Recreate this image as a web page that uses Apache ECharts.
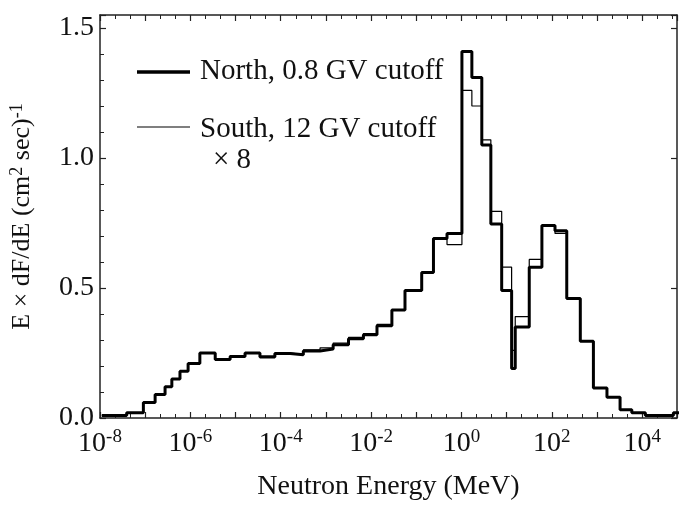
<!DOCTYPE html>
<html style="height: 100%">
<head>
<meta charset="utf-8">
<script src="https://cdn.jsdelivr.net/npm/echarts@6/dist/echarts.min.js"></script>
</head>
<body style="height: 100%; margin: 0; background: #fff">
<div id="container" style="width: 680px; height: 506px"></div>
<script>
// bin edges, log10(E / MeV)
var edges = [-7.96, -7.41, -7.04, -6.78, -6.56, -6.41, -6.23, -6.05, -5.79, -5.45,
  -5.12, -4.79, -4.46, -4.13, -3.79, -3.50, -3.13, -2.84, -2.50, -2.17,
  -1.87, -1.54, -1.25, -0.88, -0.62, -0.32, 0.01, 0.23, 0.45, 0.65,
  0.89, 1.11, 1.19, 1.50, 1.78, 2.07, 2.33, 2.63, 2.92, 3.22,
  3.51, 3.77, 4.07, 4.69, 4.84];
// bin values, North 0.8 GV cutoff
var north = [0.01, 0.02, 0.06, 0.09, 0.12, 0.15, 0.18, 0.21, 0.25, 0.225,
  0.237, 0.25, 0.235, 0.248, 0.243, 0.258, 0.265, 0.282, 0.305, 0.32,
  0.355, 0.415, 0.49, 0.56, 0.69, 0.71, 1.41, 1.31, 1.05, 0.746,
  0.49, 0.19, 0.35, 0.58, 0.74, 0.72, 0.46, 0.295, 0.115, 0.08,
  0.032, 0.02, 0.01, 0.02];
// bin values, South 12 GV cutoff x 8
var south = [0.01, 0.02, 0.06, 0.09, 0.12, 0.15, 0.18, 0.21, 0.25, 0.228,
  0.24, 0.25, 0.238, 0.25, 0.245, 0.262, 0.27, 0.288, 0.31, 0.325,
  0.36, 0.415, 0.49, 0.56, 0.69, 0.667, 1.26, 1.2, 1.07, 0.795,
  0.58, 0.26, 0.39, 0.61, 0.74, 0.71, 0.46, 0.295, 0.115, 0.08,
  0.032, 0.02, 0.01, 0.02];
var xLabelExps = [-8, -6, -4, -2, 0, 2, 4];

function steps(vals) {
  var res = [];
  for (var i = 0; i < vals.length; i++) res.push([edges[i], vals[i]]);
  res.push([edges[edges.length - 1], vals[vals.length - 1]]);
  return res;
}

var font = 'Liberation Serif';
var myChart = echarts.init(document.getElementById('container'));
var tickIn = { show: true, inside: true, length: 6, lineStyle: { color: '#222', width: 1.2 } };
var minorIn = { show: true, splitNumber: 3, length: 4, lineStyle: { color: '#222' } };
var frameLine = { show: true, onZero: false, lineStyle: { color: '#222', width: 1.5 } };

var option = {
  backgroundColor: '#fff',
  animation: false,
  grid: { left: 100, right: 1, top: 15, bottom: 88 },
  xAxis: [{
    type: 'value', min: -8, max: 4.77, interval: 1,
    axisLine: frameLine,
    axisTick: tickIn, minorTick: minorIn, splitLine: { show: false },
    axisLabel: {
      margin: 10,
      formatter: function (v) {
        return xLabelExps.indexOf(v) >= 0 ? '{b|10}{s|' + v + '}' : '';
      },
      rich: {
        b: { fontFamily: font, fontSize: 28, color: '#111' },
        s: { fontFamily: font, fontSize: 19, color: '#111', verticalAlign: 'top', padding: [0, 0, 12, 0] }
      }
    },
    name: 'Neutron Energy (MeV)', nameLocation: 'middle', nameGap: 55,
    nameTextStyle: { fontFamily: font, fontSize: 28, color: '#111' }
  }, {
    type: 'value', position: 'top', min: -8, max: 4.77, interval: 1,
    axisLine: frameLine,
    axisTick: tickIn, minorTick: minorIn, axisLabel: { show: false }, splitLine: { show: false }
  }],
  yAxis: [{
    type: 'value', min: 0, max: 1.55, interval: 0.5,
    axisLine: frameLine,
    axisTick: tickIn, minorTick: { show: true, splitNumber: 5, length: 4, lineStyle: { color: '#222' } },
    splitLine: { show: false },
    axisLabel: {
      margin: 6, fontFamily: font, fontSize: 28, color: '#111',
      formatter: function (v) { return v <= 1.5 ? v.toFixed(1) : ''; }
    },
    name: 'E × dF/dE (cm{s|2} sec){s|-1}', nameLocation: 'middle', nameGap: 64,
    nameTextStyle: {
      fontFamily: font, fontSize: 26, color: '#111',
      rich: { s: { fontFamily: font, fontSize: 18, color: '#111', verticalAlign: 'top', padding: [0, 0, 10, 0] } }
    }
  }, {
    type: 'value', position: 'right', min: 0, max: 1.55, interval: 0.5,
    axisLine: frameLine,
    axisTick: tickIn, axisLabel: { show: false }, splitLine: { show: false }
  }],
  series: [{
    name: 'South', type: 'line', step: 'end', symbol: 'none',
    data: steps(south), lineStyle: { color: '#000', width: 1.2 }
  }, {
    name: 'North', type: 'line', step: 'end', symbol: 'none',
    data: steps(north), lineStyle: { color: '#000', width: 3 }
  }],
  graphic: [
    { type: 'line', shape: { x1: 137, y1: 72, x2: 190, y2: 72 }, style: { stroke: '#000', lineWidth: 3.5 } },
    { type: 'text', left: 200, top: 57, style: { text: 'North, 0.8 GV cutoff', font: '29px "Liberation Serif"', fill: '#111' } },
    { type: 'line', shape: { x1: 137, y1: 127, x2: 190, y2: 127 }, style: { stroke: '#000', lineWidth: 1.2 } },
    { type: 'text', left: 200, top: 115, style: { text: 'South, 12 GV cutoff', font: '29px "Liberation Serif"', fill: '#111' } },
    { type: 'text', left: 213, top: 146, style: { text: '× 8', font: '29px "Liberation Serif"', fill: '#111' } }
  ]
};
myChart.setOption(option);
</script>
</body>
</html>
